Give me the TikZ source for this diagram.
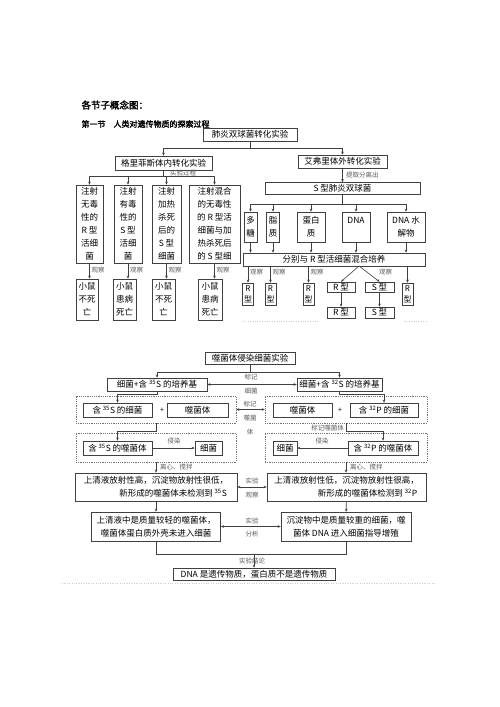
\documentclass[tikz,border=0pt]{standalone}
\usepackage{fontspec}
\setmainfont{Noto Sans CJK SC}[AutoFakeBold=2]
\usetikzlibrary{positioning,arrows.meta}

\begin{document}
\begin{tikzpicture}[x=1pt,y=-1pt,
concept/.style={draw=black!75,line width=.6pt,inner sep=0pt,align=center,font=\fontsize{8.5}{13}\selectfont},
wh/.style 2 args={minimum width=#1pt,minimum height=#2pt},
note/.style={inner sep=0pt,text=black!65,font=\fontsize{6.5}{7}\selectfont},
group/.style={draw=black!55,line width=.5pt,dash pattern=on 1.2pt off 1pt,inner sep=0pt},
link/.style={draw=black!75,line width=.6pt},
arr/.style={link,-{Stealth[length=3pt,width=2.6pt]}},
darr/.style={link,{Stealth[length=3pt,width=2.6pt]}-{Stealth[length=3pt,width=2.6pt]}}]
\useasboundingbox (0,0) rectangle (500,707);
\node (title) [anchor=west,font=\bfseries\fontsize{9.5}{10}\selectfont] at (78,105) {各节子概念图：};
\node (sect) [anchor=west,font=\bfseries\fontsize{8}{9}\selectfont] at (78,124) {第一节\quad 人类对遗传物质的探索过程};
\node (pneu) [concept,wh={94}{13}] at (250,134.5) {肺炎双球菌转化实验};
\node (grif) [concept,wh={97}{14}] at (163.5,163) {格里菲斯体内转化实验};
\node (aver) [concept,wh={89}{13}] at (342.5,161.5) {艾弗里体外转化实验};
\draw[link] (pneu.south) -- ++(0,7) coordinate (j1);
\draw[arr] (j1) -| (grif); \draw[arr] (j1) -| (aver);
\node (t1) [concept,wh={27}{78}] at (89.5,224) {注射\\无毒\\性的\\R 型\\活细\\菌};
\node (t2) [concept,wh={28}{78}] at (128,224) {注射\\有毒\\性的\\S 型\\活细\\菌};
\node (t3) [concept,wh={29}{78}] at (166.5,224) {注射\\加热\\杀死\\后的\\S 型\\细菌};
\node (t4) [concept,wh={51}{78}] at (214.5,224) {注射混合\\的无毒性\\的 R 型活\\细菌与加\\热杀死后\\的 S 型细};
\draw[link] (grif.south) -- ++(0,6) coordinate (j2);
\node (proc) [note,anchor=west] at (170,172.5) {实验过程};
\foreach \t in {t1,t2,t3,t4} \draw[arr] (j2) -| (\t);
\node (m1) [concept,wh={22}{41}] at (87,299.5) {小鼠\\不死\\亡};
\node (m2) [concept,wh={23}{41}] at (124.5,299.5) {小鼠\\患病\\死亡};
\node (m3) [concept,wh={23}{41}] at (163.5,299.5) {小鼠\\不死\\亡};
\node (m4) [concept,wh={24}{41}] at (210,299.5) {小鼠\\患病\\死亡};
\foreach \t/\m in {t1/m1,t2/m2,t3/m3,t4/m4} {
  \draw[arr] (\t.south) -- (\t.south |- \m.north);
  \node (o\m) [note,anchor=west] at ([xshift=2pt,yshift=-7pt]\t.south) {观察};
}
\node (sbox) [concept,wh={155}{12}] at (342.5,188.5) {S 型肺炎双球菌};
\draw[arr] (aver) -- (sbox);
\node (extr) [note,anchor=west] at (346,175) {提取分离出};
\draw[link] (sbox.south) -- ++(0,9) coordinate (j3);
\node (b1) [concept,wh={13}{30}] at (250.5,227) {多\\糖};
\node (b2) [concept,wh={13}{30}] at (273,227) {脂\\质};
\node (b3) [concept,wh={28}{30}] at (311,227) {蛋白\\质};
\node (b4) [concept,wh={28}{30}] at (356,227) {DNA\\\phantom{质}};
\node (b5) [concept,wh={38}{30}] at (406,227) {DNA 水\\解物};
\node (mix) [concept,wh={182}{13}] at (334,259.5) {分别与 R 型活细菌混合培养};
\foreach \b in {b1,b2,b3,b4,b5} {
  \draw[arr] (j3) -| (\b);
  \draw[arr] (\b) -- (\b |- mix.north);
}
\node (r1) [concept,wh={11}{22},font=\fontsize{8}{10.5}\selectfont] at (248,294) {R\\型};
\node (r2) [concept,wh={11}{22},font=\fontsize{8}{10.5}\selectfont] at (270.5,294) {R\\型};
\node (r3) [concept,wh={11}{22},font=\fontsize{8}{10.5}\selectfont] at (308.5,294) {R\\型};
\node (r4) [concept,wh={11}{22},font=\fontsize{8}{10.5}\selectfont] at (407.5,294) {R\\型};
\node (h1) [concept,wh={28}{10}] at (341,287) {R 型};
\node (h2) [concept,wh={29}{10}] at (379.5,287) {S 型};
\node (h3) [concept,wh={28}{11}] at (341,312.5) {R 型};
\node (h4) [concept,wh={29}{11}] at (379.5,312.5) {S 型};
\foreach \r in {r1,r2,r3,r4} \draw[arr] (\r |- mix.south) -- (\r);
\coordinate (sp) at (359,266);
\draw[arr] (sp) -- (h1.north); \draw[arr] (sp) -- (h2.north);
\draw[arr] (h1) -- (h3); \draw[arr] (h2) -- (h4);
\foreach \x/\n in {250/p1,272.5/p2,310.5/p3,379/p4} \node (o\n) [note,anchor=west] at (\x,272.5) {观察};
\draw[black!20,dotted] (243,321) -- (318,321); \draw[black!20,dotted] (404,321) -- (426,321);
\node (phage) [concept,wh={90}{12}] at (250,358.5) {噬菌体侵染细菌实验};
\node (c1) [concept,wh={100}{13}] at (157,384.5) {细菌+含 \textsuperscript{35}S 的培养基};
\node (c2) [concept,wh={85}{13}] at (339.5,384.5) {细菌+含 \textsuperscript{32}S 的培养基};
\draw[link] (phage.south) -- ++(0,7) coordinate (j4);
\draw[arr] (j4) -| (c1); \draw[arr] (j4) -| (c2);
\draw[darr] (c1) -- (c2);
\node (mk1) [note] at (251,377.5) {标记};
\node (mk2) [note] at (251,391.5) {细菌};
\node (d1) [group,wh={160}{27}] at (156,409.5) {};
\node (d2) [group,wh={162}{27}] at (346,409.5) {};
\node (s35b) [concept,wh={69}{14}] at (117.5,410) {含 \textsuperscript{35}S 的细菌};
\node (pl1) [font=\fontsize{7}{8}\selectfont,inner sep=0pt] at (162,410) {+};
\node (ph1) [concept,wh={61}{14}] at (197.5,410) {噬菌体};
\node (ph2) [concept,wh={59}{14}] at (302.5,410) {噬菌体};
\node (pl2) [font=\fontsize{7}{8}\selectfont,inner sep=0pt] at (340,410) {+};
\node (p32b) [concept,wh={68}{14}] at (384,410) {含 \textsuperscript{32}P 的细菌};
\draw[arr] (c1.south) -- ++(0,3) -| (s35b.north);
\draw[arr] (c2.south) -- ++(0,3) -| (p32b.north);
\draw[darr] (d1) -- (d2);
\node (mk3) [note] at (250,404) {标记};
\node (mk4) [note,align=center,font=\fontsize{6.5}{14}\selectfont,anchor=north] at (250,415) {噬菌\\体};
\node (d3) [group,wh={160}{29}] at (156,447.5) {};
\node (d4) [group,wh={162}{29}] at (346,447.5) {};
\node (s35p) [concept,wh={69}{14}] at (117.5,448) {含 \textsuperscript{35}S 的噬菌体};
\node (bac1) [concept,wh={27}{14}] at (208.5,448) {细菌};
\node (bac2) [concept,wh={24}{14}] at (285,448) {细菌};
\node (p32p) [concept,wh={70}{14}] at (383,448) {含 \textsuperscript{32}P 的噬菌体};
\draw[arr] (d1.south) -- ++(0,8) -| (s35p.north);
\draw[arr] (d2.south) -- ++(0,8) -| (p32p.north);
\node (mkp) [note,anchor=east] at (344,428) {标记噬菌体};
\draw[arr] (s35p) -- (bac1); \draw[arr] (p32p) -- (bac2);
\node (inf1) [note] at (174,441) {侵染};
\node (inf2) [note] at (322,441) {侵染};
\node (e1) [concept,wh={162}{28},align=right] at (156,487) {上清液放射性高，沉淀物放射性很低，\\新形成的噬菌体未检测到 \textsuperscript{35}S\,};
\node (e2) [concept,wh={159}{28},align=right] at (346.5,487) {上清液放射性低，沉淀物放射性很高，\\新形成的噬菌体检测到 \textsuperscript{32}P\,};
\draw[arr] (d3) -- (d3 |- e1.north); \draw[arr] (d4) -- (d4 |- e2.north);
\node (cen1) [note,anchor=west] at (160,467) {离心、搅拌};
\node (cen2) [note,anchor=west] at (350,467) {离心、搅拌};
\draw[darr] (e1) -- (e2);
\node (ob1) [note] at (252,481) {实验};
\node (ob2) [note] at (252,495.5) {观察};
\node (f1) [concept,wh={129}{29}] at (156,526.5) {上清液中是质量较轻的噬菌体，\\噬菌体蛋白质外壳未进入细菌};
\node (f2) [concept,wh={130}{29}] at (346,526.5) {沉淀物中是质量较重的细菌，噬\\菌体 DNA 进入细菌指导增殖};
\draw[arr] (e1) -- (f1); \draw[arr] (e2) -- (f2);
\draw[darr] (f1) -- (f2);
\node (an1) [note] at (252,520.5) {实验};
\node (an2) [note] at (252,534.5) {分析};
\node (g) [concept,wh={162}{12}] at (254,574) {DNA 是遗传物质，蛋白质不是遗传物质};
\draw[link] (f1.south) -- ++(0,13) coordinate (j5) -| (f2.south);
\draw[arr] (g.north |- j5) -- (g);
\node (conc) [note] at (252,561) {实验结论};
\draw[black!20,dotted] (62,583) -- (436,583);
\end{tikzpicture}
\end{document}
